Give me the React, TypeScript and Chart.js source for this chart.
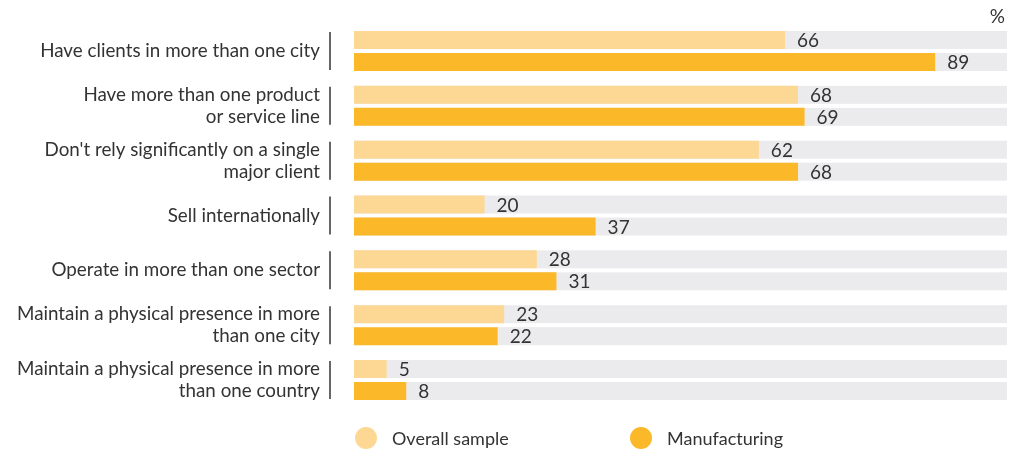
import React, { useEffect, useRef } from "react";
import { Chart, registerables } from "chart.js";

Chart.register(...registerables);

const categories: (string | string[])[] = [
  "Have clients in more than one city",
  ["Have more than one product", "or service line"],
  ["Don't rely significantly on a single", "major client"],
  "Sell internationally",
  "Operate in more than one sector",
  ["Maintain a physical presence in more", "than one city"],
  ["Maintain a physical presence in more", "than one country"],
];
const overallSample = [66, 68, 62, 20, 28, 23, 5];
const manufacturing = [89, 69, 68, 37, 31, 22, 8];
const seriesNames = ["Overall sample", "Manufacturing"];
const unitLabel = "%";

const LIGHT = "#FDD895";
const DARK = "#FBB829";
const TRACK = "#EBEBED";
const TEXT = "#333333";
const FONT = "Lato, 'Open Sans', sans-serif";

const decoPlugin = {
  id: "deco",
  beforeDatasetsDraw(chart: any) {
    const ctx = chart.ctx;
    const xs = chart.scales.x;
    const x0 = xs.getPixelForValue(0);
    const x1 = xs.getPixelForValue(100);
    ctx.save();
    ctx.fillStyle = TRACK;
    chart.data.datasets.forEach((_: any, di: number) => {
      const meta = chart.getDatasetMeta(di);
      meta.data.forEach((bar: any) => {
        const h = bar.height;
        ctx.fillRect(x0, bar.y - h / 2, x1 - x0, h);
      });
    });
    ctx.restore();
  },
  afterDatasetsDraw(chart: any) {
    const ctx = chart.ctx;
    ctx.save();
    ctx.fillStyle = TEXT;
    ctx.font = `19px ${FONT}`;
    ctx.textBaseline = "middle";
    ctx.textAlign = "left";
    chart.data.datasets.forEach((ds: any, di: number) => {
      const meta = chart.getDatasetMeta(di);
      meta.data.forEach((bar: any, i: number) => {
        ctx.fillText(String(ds.data[i]), bar.x + 12, bar.y + 1);
      });
    });
    // separator lines
    const m0 = chart.getDatasetMeta(0);
    const m1 = chart.getDatasetMeta(1);
    ctx.strokeStyle = TEXT;
    ctx.lineWidth = 1.5;
    m0.data.forEach((bar: any, i: number) => {
      const b2 = m1.data[i];
      const top = bar.y - bar.height / 2 + 1;
      const bot = b2.y + b2.height / 2 - 1;
      ctx.beginPath();
      ctx.moveTo(330, top);
      ctx.lineTo(330, bot);
      ctx.stroke();
    });
    // unit label
    ctx.textAlign = "right";
    ctx.fillText(unitLabel, chart.scales.x.getPixelForValue(100) - 2, 17);
    // legend
    const items = [
      { x: 366, c: LIGHT, t: seriesNames[0] },
      { x: 641, c: DARK, t: seriesNames[1] },
    ];
    const ly = 438;
    ctx.font = `18px ${FONT}`;
    items.forEach((it) => {
      ctx.beginPath();
      ctx.fillStyle = it.c;
      ctx.arc(it.x, ly, 11, 0, Math.PI * 2);
      ctx.fill();
      ctx.fillStyle = TEXT;
      ctx.textAlign = "left";
      ctx.fillText(it.t, it.x + 26, ly + 1);
    });
    ctx.restore();
  },
};

export default function App() {
  const ref = useRef<HTMLCanvasElement | null>(null);
  useEffect(() => {
    if (!ref.current) return;
    const chart = new Chart(ref.current, {
      type: "bar",
      data: {
        labels: categories,
        datasets: [
          { label: seriesNames[0], data: overallSample, backgroundColor: LIGHT },
          { label: seriesNames[1], data: manufacturing, backgroundColor: DARK },
        ],
      },
      options: {
        indexAxis: "y",
        animation: false,
        responsive: false,
        maintainAspectRatio: false,
        layout: { padding: { top: 23.6, bottom: 44.6, right: 9, left: 0 } },
        datasets: { bar: { categoryPercentage: 0.8025, barPercentage: 0.818 } },
        plugins: { legend: { display: false }, tooltip: { enabled: false } },
        scales: {
          x: { min: 0, max: 100, display: false },
          y: {
            grid: { display: false, drawTicks: false },
            border: { display: false },
            afterFit: (s: any) => {
              s.width = 354;
              s.paddingTop = 0;
              s.paddingBottom = 0;
            },
            ticks: {
              padding: 34,
              color: TEXT,
              font: { family: FONT, size: 18.8, lineHeight: 1.17 },
            },
          },
        },
      },
      plugins: [decoPlugin],
    });
    return () => chart.destroy();
  }, []);
  return (
    <div style={{ position: "absolute", left: 0, top: 0, width: 1016, height: 452, background: "#fff" }}>
      <canvas ref={ref} width={1016} height={452} />
    </div>
  );
}
